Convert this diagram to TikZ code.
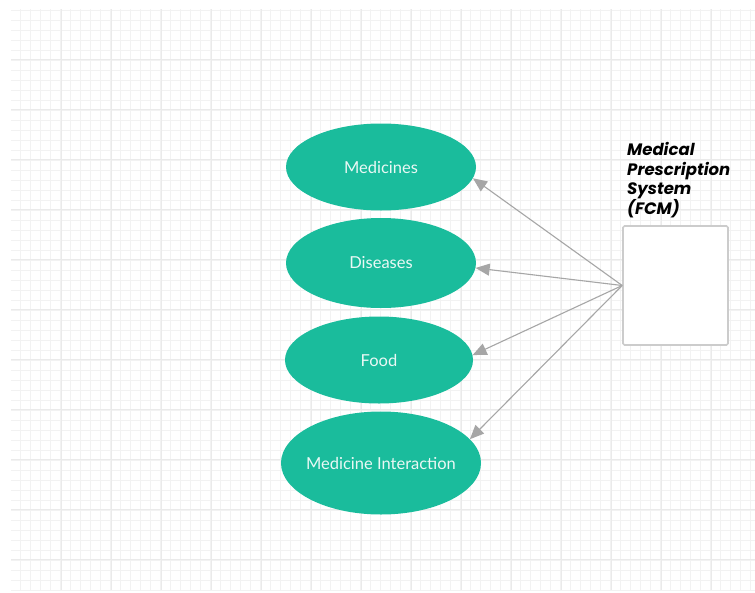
\documentclass[tikz,border=0pt]{standalone}
\usepackage{fontspec}
\setmainfont{Lato}
\newfontfamily\titlefont{Poppins}
\usetikzlibrary{shapes.geometric,arrows.meta}
\definecolor{teal1}{HTML}{1ABC9C}
\definecolor{labeltext}{HTML}{EAF8F5}
\definecolor{gridminor}{HTML}{F2F2F2}
\definecolor{gridmajor}{HTML}{EAEAEA}
\definecolor{linkgray}{HTML}{A6A6A6}
\definecolor{boxline}{HTML}{CCCCCC}
\tikzset{
  usecase/.style={ellipse, fill=teal1, draw=none, inner ysep=0pt,
    inner xsep=-12pt, text=labeltext, font=\fontsize{16.5}{19}\selectfont},
  link/.style={draw=linkgray, line width=1.1pt,
    -{Triangle[length=14pt,width=12pt]}},
  sysbox/.style={draw=boxline, line width=1.6pt, fill=white,
    rounded corners=1.5pt, minimum width=105pt, minimum height=119pt,
    inner sep=0pt},
}
\begin{document}
\begin{tikzpicture}[x=1pt,y=-1pt]
  \useasboundingbox (0,0) rectangle (755,592);
  \fill[white] (0,0) rectangle (755,592);
  % background grid
  \draw[gridminor, line width=0.6pt, step=10pt] (11,9) grid (755,590);
  \foreach \gx in {61,111,...,755} \draw[gridmajor, line width=0.6pt] (\gx,9) -- (\gx,590);
  \foreach \gy in {59,109,...,590} \draw[gridmajor, line width=0.6pt] (11,\gy) -- (755,\gy);

  % use cases
  \node[usecase, minimum width=190pt, minimum height=87pt] (med) at (381,167) {Medicines};
  \node[usecase, minimum width=190pt, minimum height=90pt] (dis) at (381,263) {Diseases};
  \node[usecase, minimum width=188pt, minimum height=87pt] (food) at (379,360) {Food};
  \node[usecase, minimum width=200pt, minimum height=103pt] (inter) at (381,463) {Medicine Interaction};

  % system box and its title
  \node[sysbox] (sys) at (675.5,285.5) {};
  \node[anchor=south west, align=left, inner sep=0pt,
        font=\titlefont\bfseries\itshape\fontsize{16.5}{19.5}\selectfont]
        (title) at (627,218) {Medical\\Prescription\\System\\(FCM)};

  % links
  \draw[link] (sys.west) -- (med.-7);
  \draw[link] (sys.west) -- (dis.-3);
  \draw[link] (sys.west) -- (food.3);
  \draw[link] (sys.west) -- (inter.15);
\end{tikzpicture}
\end{document}
